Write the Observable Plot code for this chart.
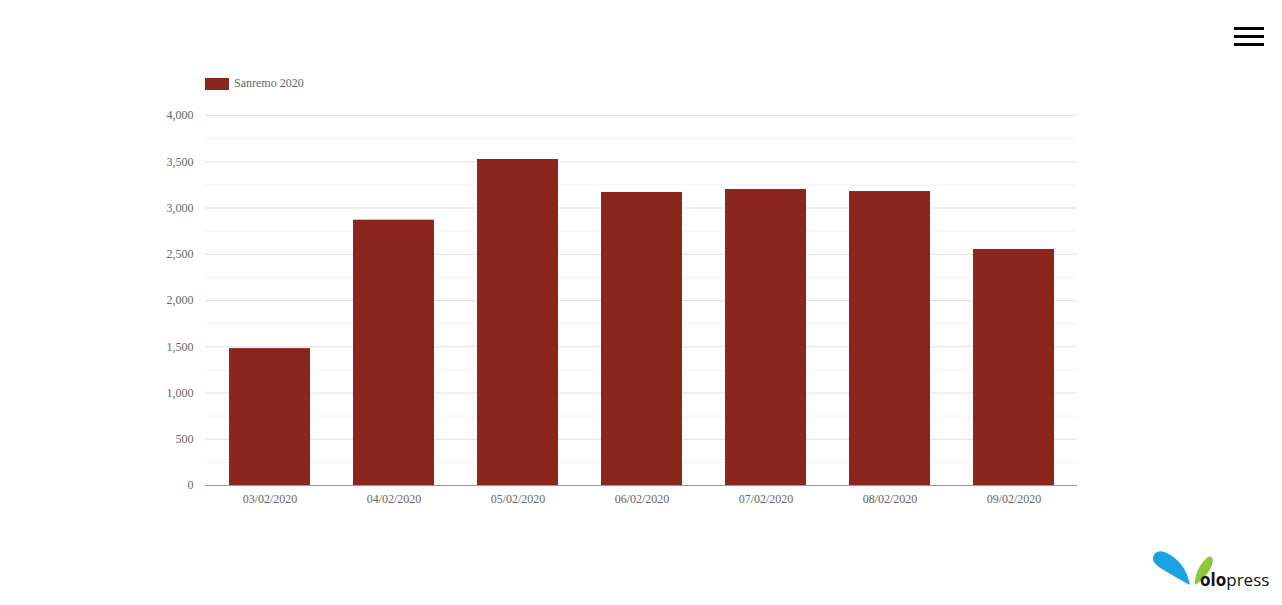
<!DOCTYPE html>
<html>
<head>
<meta charset="utf-8">
<script src="https://cdn.jsdelivr.net/npm/d3@7"></script>
<script src="https://cdn.jsdelivr.net/npm/@observablehq/plot@0.6"></script>
<style>
  html, body { margin: 0; padding: 0; background: #fff; width: 1282px; height: 605px; overflow: hidden; }
  #wrap { position: relative; width: 1282px; height: 605px; }
  #chart { position: absolute; left: 0; top: 0; }
  #legend { position: absolute; left: 205px; top: 76px; font-family: "Liberation Serif", "Times New Roman", serif; font-size: 12px; color: #666; display: flex; align-items: center; }
  #legend .sw { width: 24px; height: 12px; background: #8B261F; margin-right: 5px; }
  #menu { position: absolute; left: 1234px; top: 27px; width: 30px; }
  #menu div { height: 3px; background: #000; margin-bottom: 5px; }
  #logo { position: absolute; left: 1148px; top: 545px; }
</style>
</head>
<body>
<div id="wrap">
  <div id="chart"></div>
  <div id="legend"><div class="sw"></div><span>Sanremo 2020</span></div>
  <div id="menu"><div></div><div></div><div></div></div>
  <svg id="logo" width="130" height="50" viewBox="0 0 130 50">
    <path d="M6,10 C10,2 22,8 30,16 C36,22 40,30 42,40 C34,36 24,30 14,24 C6,19 3,14 6,10 Z" fill="#1aa3e0"/>
    <path d="M47,40 C46,30 52,18 60,12 C64,10 66,14 64,20 C61,28 54,36 47,40 Z" fill="#8dc63f"/>
    <text x="52" y="41" font-family="'Open Sans', Arial, sans-serif" font-size="17" fill="#111"><tspan font-weight="bold">olo</tspan><tspan>press</tspan></text>
  </svg>
</div>
<script>
const dates = ["03/02/2020", "04/02/2020", "05/02/2020", "06/02/2020", "07/02/2020", "08/02/2020", "09/02/2020"];
const values = [1480, 2868, 3525, 3168, 3200, 3178, 2552];
const seriesName = "Sanremo 2020";
const majorTicks = [0, 500, 1000, 1500, 2000, 2500, 3000, 3500, 4000];
const minorTicks = [250, 750, 1250, 1750, 2250, 2750, 3250, 3750];

const data = dates.map((d, i) => ({date: d, value: values[i], series: seriesName}));
const fmt = d3.format(",");

const chart = Plot.plot({
  width: 1282,
  height: 605,
  marginTop: 115,
  marginBottom: 120,
  marginLeft: 205,
  marginRight: 205,
  style: { fontFamily: "'Liberation Serif', 'Times New Roman', serif", fontSize: "12px", color: "#666", background: "transparent" },
  x: { domain: dates, paddingInner: 0.35, paddingOuter: 0.175, label: null },
  y: { domain: [0, 4000], label: null },
  marks: [
    Plot.ruleY(minorTicks, { stroke: "#f2f2f2", strokeWidth: 1 }),
    Plot.ruleY(majorTicks, { stroke: "#e0e0e0", strokeWidth: 1 }),
    Plot.barY(data, { x: "date", y: "value", fill: "#8B261F" }),
    Plot.ruleY([0], { stroke: "#999", strokeWidth: 1 }),
    Plot.axisY({ ticks: majorTicks, tickFormat: fmt, tickSize: 0, tickPadding: 12, fill: "#666", fontSize: 12 }),
    Plot.axisX({ tickSize: 0, tickPadding: 9, fill: "#666", fontSize: 12 })
  ]
});
document.getElementById("chart").appendChild(chart);
</script>
</body>
</html>
